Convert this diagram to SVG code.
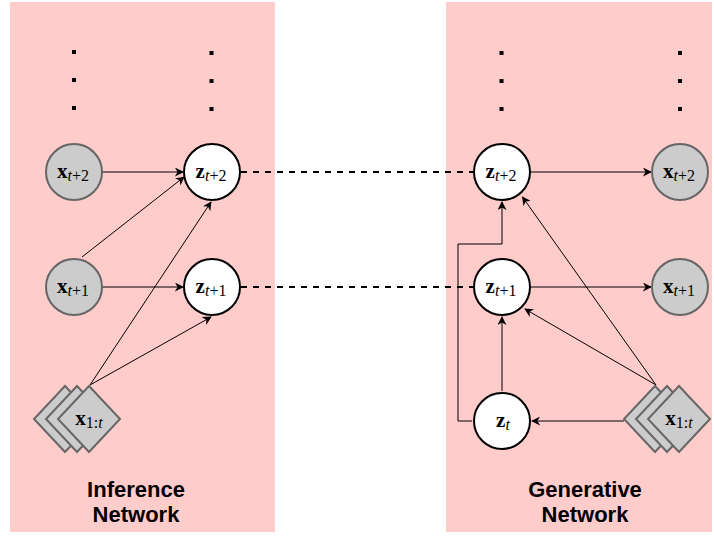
<svg xmlns="http://www.w3.org/2000/svg" width="714" height="536" viewBox="0 0 714 536">
<defs>
<marker id="arr" viewBox="0 0 10 10" refX="9" refY="5" markerWidth="9" markerHeight="9" markerUnits="userSpaceOnUse" orient="auto">
<path d="M0,0 L10,5 L0,10 L3,5 Z" fill="#000"/>
</marker>
<style>
.panel{fill:#ffcccc;stroke:none}
.obs{fill:#cccccc;stroke:#666666;stroke-width:2}
.lat{fill:#ffffff;stroke:#000000;stroke-width:2}
.dia{fill:#cccccc;stroke:#666666;stroke-width:2}
.edge{fill:none;stroke:#000;stroke-width:1;marker-end:url(#arr)}
.dash{fill:none;stroke:#000;stroke-width:2;stroke-dasharray:6 6}
.lbl{font-family:"Liberation Serif",serif;font-size:21px;font-weight:bold;fill:#000;text-anchor:middle}
.sub{font-size:16px;font-weight:normal}
.it{font-style:italic}
.title{font-family:"Liberation Sans",Arial,sans-serif;font-size:22px;font-weight:bold;fill:#000;text-anchor:middle}
.dot{fill:#000}
</style>
</defs>
<rect class="panel" x="10" y="2" width="265" height="530"/>
<rect class="panel" x="446" y="2" width="266" height="530"/>

<g id="dots">
<rect class="dot" x="72" y="50" width="4" height="4"/>
<rect class="dot" x="72" y="78" width="4" height="4"/>
<rect class="dot" x="72" y="106" width="4" height="4"/>
<rect class="dot" x="209.5" y="51" width="4" height="4"/>
<rect class="dot" x="209.5" y="79" width="4" height="4"/>
<rect class="dot" x="209.5" y="107" width="4" height="4"/>
<rect class="dot" x="499.5" y="51" width="4" height="4"/>
<rect class="dot" x="499.5" y="79" width="4" height="4"/>
<rect class="dot" x="499.5" y="107" width="4" height="4"/>
<rect class="dot" x="678" y="51" width="4" height="4"/>
<rect class="dot" x="678" y="79" width="4" height="4"/>
<rect class="dot" x="678" y="107" width="4" height="4"/>
</g>

<g id="connectors">
<line class="edge" x1="102" y1="172" x2="183" y2="172"/>
<line class="edge" x1="102" y1="287" x2="183" y2="287"/>
<line class="edge" x1="82" y1="257" x2="184" y2="177"/>
<line class="edge" x1="90" y1="385" x2="211" y2="202"/>
<line class="edge" x1="90" y1="385" x2="211" y2="317"/>
<line class="dash" x1="241" y1="172" x2="473" y2="172"/>
<line class="dash" x1="241" y1="287" x2="473" y2="287"/>
<line class="edge" x1="531" y1="172" x2="651" y2="172"/>
<line class="edge" x1="531" y1="287" x2="651" y2="287"/>
<line class="edge" x1="502" y1="391" x2="502" y2="317"/>
<line class="edge" x1="624" y1="421" x2="532" y2="421"/>
<line class="edge" x1="656" y1="385" x2="525" y2="309"/>
<line class="edge" x1="656" y1="385" x2="522.5" y2="197"/>
<polyline class="edge" points="472,421 458,421 458,244 502,244 502,202"/>
</g>

<g id="inf-x-t2">
<circle class="obs" cx="74" cy="172" r="28"/>
<text class="lbl" x="73" y="178">x<tspan class="sub" dy="3"><tspan class="it">t</tspan>+2</tspan></text>
</g>
<g id="inf-z-t2">
<circle class="lat" cx="212" cy="172" r="28"/>
<text class="lbl" x="211" y="178">z<tspan class="sub" dy="3"><tspan class="it">t</tspan>+2</tspan></text>
</g>
<g id="inf-x-t1">
<circle class="obs" cx="74" cy="287" r="28"/>
<text class="lbl" x="73" y="293">x<tspan class="sub" dy="3"><tspan class="it">t</tspan>+1</tspan></text>
</g>
<g id="inf-z-t1">
<circle class="lat" cx="212" cy="287" r="28"/>
<text class="lbl" x="211" y="293">z<tspan class="sub" dy="3"><tspan class="it">t</tspan>+1</tspan></text>
</g>
<g id="inf-x-1t">
<polygon class="dia" points="65,386 96,419 65,452 34,419"/>
<polygon class="dia" points="77,386 108,419 77,452 46,419"/>
<polygon class="dia" points="89,386 120,419 89,452 58,419"/>
<text class="lbl" x="89" y="425">x<tspan class="sub" dy="3">1:<tspan class="it">t</tspan></tspan></text>
</g>

<g id="gen-z-t2">
<circle class="lat" cx="502" cy="172" r="28"/>
<text class="lbl" x="501" y="178">z<tspan class="sub" dy="3"><tspan class="it">t</tspan>+2</tspan></text>
</g>
<g id="gen-x-t2">
<circle class="obs" cx="680" cy="172" r="28"/>
<text class="lbl" x="679" y="178">x<tspan class="sub" dy="3"><tspan class="it">t</tspan>+2</tspan></text>
</g>
<g id="gen-z-t1">
<circle class="lat" cx="502" cy="287" r="28"/>
<text class="lbl" x="501" y="293">z<tspan class="sub" dy="3"><tspan class="it">t</tspan>+1</tspan></text>
</g>
<g id="gen-x-t1">
<circle class="obs" cx="680" cy="287" r="28"/>
<text class="lbl" x="679" y="293">x<tspan class="sub" dy="3"><tspan class="it">t</tspan>+1</tspan></text>
</g>
<g id="gen-z-t">
<circle class="lat" cx="502" cy="421" r="28"/>
<text class="lbl" x="503" y="427">z<tspan class="sub" dy="3"><tspan class="it">t</tspan></tspan></text>
</g>
<g id="gen-x-1t">
<polygon class="dia" points="655,386 686,419 655,452 624,419"/>
<polygon class="dia" points="667,386 698,419 667,452 636,419"/>
<polygon class="dia" points="679,386 710,419 679,452 648,419"/>
<text class="lbl" x="679" y="425">x<tspan class="sub" dy="3">1:<tspan class="it">t</tspan></tspan></text>
</g>

<g id="titles">
<text class="title" x="136" y="497">Inference</text>
<text class="title" x="136" y="522">Network</text>
<text class="title" x="585" y="497">Generative</text>
<text class="title" x="585" y="522">Network</text>
</g>
</svg>
